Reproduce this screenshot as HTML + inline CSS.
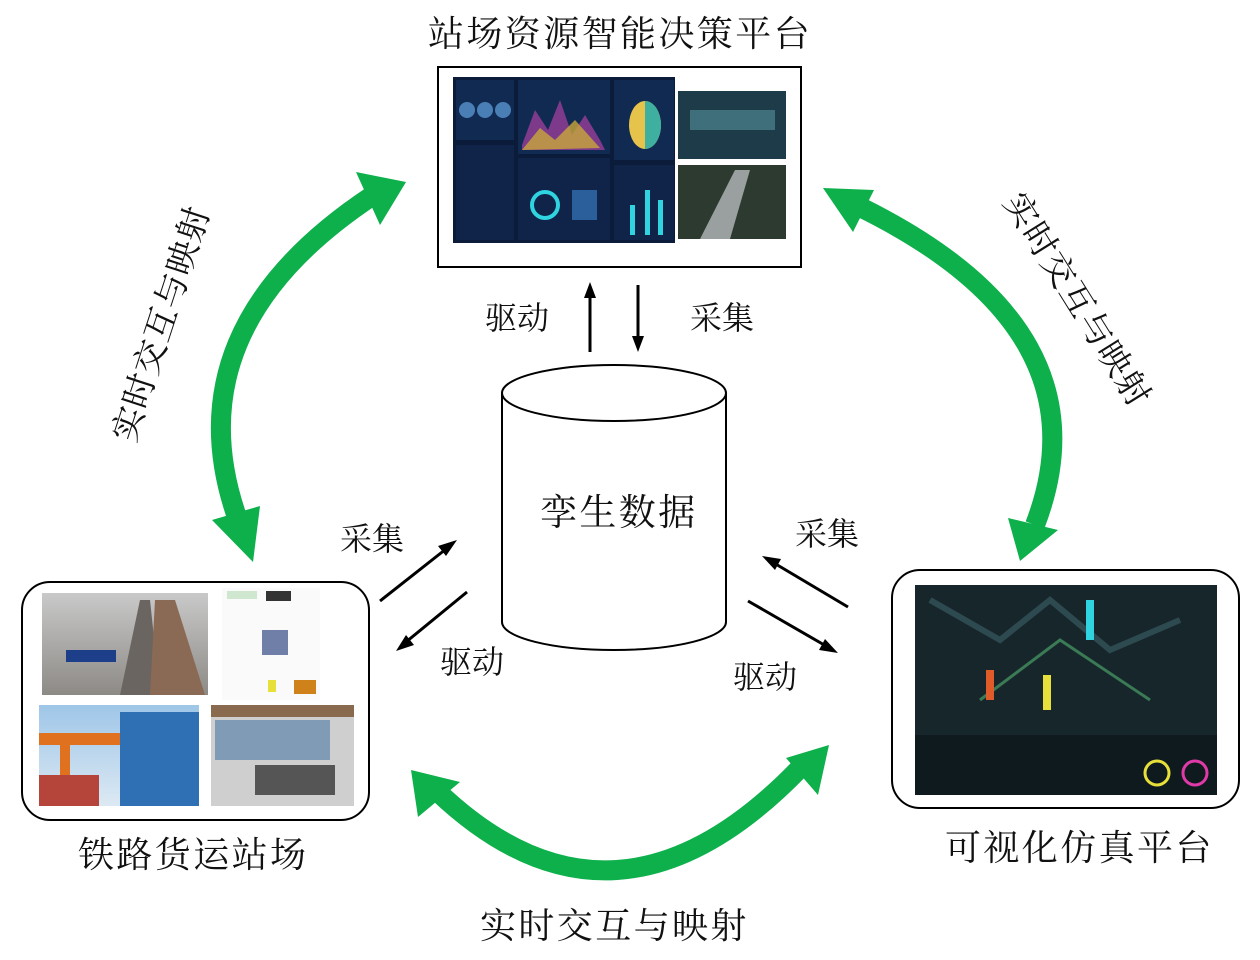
<!DOCTYPE html>
<html><head><meta charset="utf-8"><style>
html,body{margin:0;padding:0;background:#fff;}
body{width:1260px;height:960px;position:relative;overflow:hidden;font-family:"Liberation Serif","Noto Serif CJK SC",serif;}
.t{position:absolute;color:#111;white-space:nowrap;line-height:1;}
.b{font-size:36px;letter-spacing:2.4px;}
.s{font-size:32px;}
</style></head><body>
<svg width="1260" height="960" style="position:absolute;left:0;top:0">
<defs>
<linearGradient id="sky" x1="0" y1="0" x2="0" y2="1"><stop offset="0" stop-color="#9fc6e8"/><stop offset="1" stop-color="#dce9f3"/></linearGradient>
<linearGradient id="yard" x1="0" y1="0" x2="0" y2="1"><stop offset="0" stop-color="#c9c9c9"/><stop offset="1" stop-color="#8d8a86"/></linearGradient>
</defs>
<rect x="438" y="67" width="363" height="200" fill="#fff" stroke="#000" stroke-width="2"/>
<rect x="453" y="77" width="222" height="166" fill="#0b1c3a"/>
<rect x="456" y="80" width="58" height="60" fill="#102a52"/>
<circle cx="467" cy="110" r="8" fill="#4a7fb5"/><circle cx="485" cy="110" r="8" fill="#4a7fb5"/><circle cx="503" cy="110" r="8" fill="#4a7fb5"/>
<rect x="518" y="80" width="92" height="74" fill="#102a52"/>
<path d="M522 145 L535 110 L548 130 L560 100 L572 135 L585 115 L600 140 L605 150 L522 150Z" fill="#7d3a8a"/>
<path d="M522 150 L540 128 L555 140 L575 120 L600 148Z" fill="#c9a83a" opacity=".8"/>
<rect x="614" y="80" width="60" height="80" fill="#102a52"/>
<ellipse cx="645" cy="125" rx="16" ry="24" fill="#e6c34a"/><path d="M645 101 A16 24 0 0 1 645 149Z" fill="#3fb0a0"/>
<rect x="456" y="145" width="58" height="95" fill="#0f2448"/>
<rect x="518" y="158" width="92" height="82" fill="#0f2448"/>
<circle cx="545" cy="205" r="13" fill="none" stroke="#2fd4e0" stroke-width="4"/>
<rect x="572" y="190" width="25" height="30" fill="#2b5f9c"/>
<rect x="614" y="165" width="60" height="75" fill="#0f2448"/>
<rect x="630" y="205" width="5" height="30" fill="#2fd4e0"/><rect x="645" y="190" width="5" height="45" fill="#2fd4e0"/><rect x="658" y="200" width="5" height="35" fill="#2fd4e0"/>
<rect x="678" y="91" width="108" height="68" fill="#1e3b4a"/>
<rect x="690" y="110" width="85" height="20" fill="#3f6f7a"/>
<rect x="678" y="165" width="108" height="74" fill="#2d3a30"/>
<path d="M700 239 L735 170 L750 170 L730 239Z" fill="#9aa0a0"/>
<g stroke="#000" stroke-width="3" fill="#000">
<line x1="590" y1="352" x2="590" y2="295"/><polygon points="590,282 584,298 596,298" stroke="none"/>
<line x1="638" y1="285" x2="638" y2="340"/><polygon points="638,352 632,336 644,336" stroke="none"/>
<line x1="380" y1="601" x2="446" y2="549"/><polygon points="457,540 438,546 446,556" stroke="none"/>
<line x1="467" y1="592" x2="406" y2="642"/><polygon points="396,651 414,645 406,635" stroke="none"/>
<line x1="848" y1="607" x2="774" y2="563"/><polygon points="762,556 775,570 781,559" stroke="none"/>
<line x1="748" y1="601" x2="826" y2="646"/><polygon points="838,653 825,639 819,650" stroke="none"/>
</g>
<path d="M502 393 L502 622 A112 28 0 0 0 726 622 L726 393" fill="#fff" stroke="#000" stroke-width="2"/>
<ellipse cx="614" cy="393" rx="112" ry="28" fill="#fff" stroke="#000" stroke-width="2"/>
<rect x="22" y="582" width="347" height="238" rx="28" fill="#fff" stroke="#000" stroke-width="2"/>
<rect x="42" y="593" width="166" height="102" fill="url(#yard)"/>
<path d="M120 695 L140 600 L150 600 L160 695Z" fill="#6a6560"/>
<path d="M150 695 L155 600 L175 600 L205 695Z" fill="#8a6a55"/>
<rect x="66" y="650" width="50" height="12" fill="#1d3f8a"/>
<rect x="222" y="588" width="98" height="112" fill="#fafafa"/>
<rect x="262" y="630" width="26" height="25" fill="#6f7fa8"/>
<rect x="294" y="680" width="22" height="14" fill="#d0821a"/>
<rect x="268" y="680" width="8" height="12" fill="#e8e03a"/>
<rect x="227" y="591" width="30" height="8" fill="#cfe7cf"/>
<rect x="266" y="591" width="25" height="10" fill="#333"/>
<rect x="39" y="705" width="160" height="101" fill="url(#sky)"/>
<rect x="39" y="733" width="130" height="12" fill="#e0711f"/>
<rect x="60" y="745" width="10" height="55" fill="#e0711f"/>
<rect x="120" y="712" width="79" height="94" fill="#2f6fb3"/>
<rect x="39" y="775" width="60" height="31" fill="#b5453a"/>
<rect x="211" y="705" width="143" height="101" fill="#cfcfcf"/>
<rect x="211" y="705" width="143" height="12" fill="#8a6a4e"/>
<rect x="215" y="720" width="115" height="40" fill="#7f9bb5"/>
<rect x="255" y="765" width="80" height="30" fill="#555"/>
<rect x="892" y="570" width="347" height="238" rx="28" fill="#fff" stroke="#000" stroke-width="2"/>
<rect x="915" y="585" width="302" height="210" fill="#17262b"/>
<path d="M930 600 L1000 640 L1050 600 L1110 650 L1180 620" stroke="#2d4a50" stroke-width="6" fill="none"/>
<path d="M980 700 L1060 640 L1150 700" stroke="#3a7a55" stroke-width="3" fill="none"/>
<rect x="1086" y="600" width="8" height="40" fill="#2fd4e0"/>
<rect x="986" y="670" width="8" height="30" fill="#e05a2a"/>
<rect x="1043" y="675" width="8" height="35" fill="#e8e03a"/>
<rect x="915" y="735" width="302" height="60" fill="#0e1a1e"/>
<circle cx="1157" cy="773" r="12" fill="none" stroke="#e8e03a" stroke-width="3"/>
<circle cx="1195" cy="773" r="12" fill="none" stroke="#e03aa8" stroke-width="3"/>
<g fill="none" stroke="#0db04b" stroke-width="20">
<path d="M372 196 Q170 330 238 520"/>
<path d="M860 207 Q1110 330 1035 525"/>
<path d="M438 792 Q615 960 800 768"/>
</g>
<g fill="#0db04b">
<polygon points="406,182 356,172 380,225"/>
<polygon points="253,562 212,520 260,506"/>
<polygon points="823,188 874,190 853,232"/>
<polygon points="1020,561 1008,518 1058,530"/>
<polygon points="411,770 418,817 460,782"/>
<polygon points="829,745 786,758 818,795"/>
</g>
</svg>
<div class="t b" style="left:428px;top:16px;">站场资源智能决策平台</div>
<div class="t s" style="left:485px;top:302px;">驱动</div>
<div class="t s" style="left:690px;top:302px;">采集</div>
<div class="t b" style="left:540px;top:495px;font-size:37px">孪生数据</div>
<div class="t s" style="left:340px;top:523px;">采集</div>
<div class="t s" style="left:440px;top:646px;">驱动</div>
<div class="t s" style="left:795px;top:518px;">采集</div>
<div class="t s" style="left:733px;top:661px;">驱动</div>
<div class="t b" style="left:78px;top:837px;">铁路货运站场</div>
<div class="t b" style="left:945px;top:830px;">可视化仿真平台</div>
<div class="t b" style="left:480px;top:908px;">实时交互与映射</div>
<div class="t b" style="left:35px;top:300px;font-size:34px;letter-spacing:1px;transform:rotate(-72deg);transform-origin:center;width:260px">实时交互与映射</div>
<div class="t b" style="left:950px;top:290px;font-size:34px;letter-spacing:1px;transform:rotate(58deg);transform-origin:center;width:260px">实时交互与映射</div>
</body></html>
